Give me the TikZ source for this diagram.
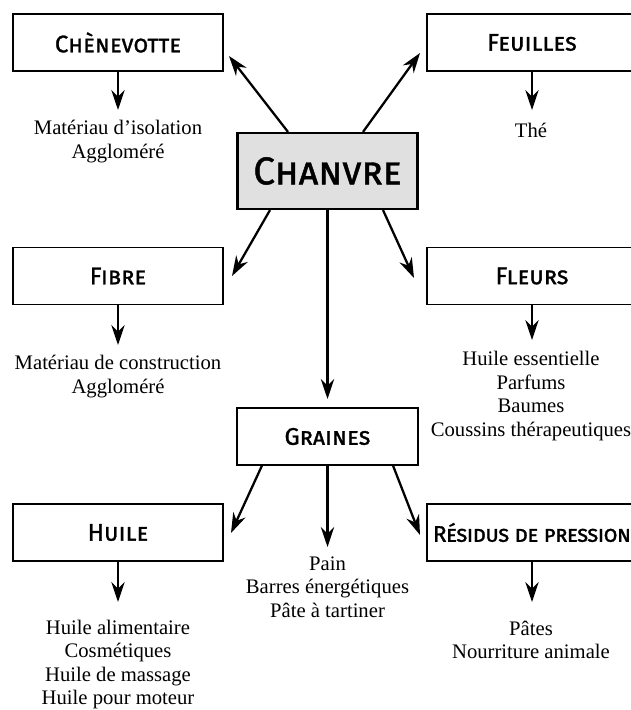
\documentclass[tikz,border=0pt]{standalone}
\usepackage{fontspec}
\setmainfont{Liberation Serif}
\newfontfamily\headfont[FakeBold=1.2]{Fira Sans}
\usetikzlibrary{arrows.meta,calc}
\begin{document}
\begin{tikzpicture}[x=0.75pt,y=-0.75pt,
  box/.style={draw=black,line width=0.8pt,minimum width=157.5pt,minimum height=42.75pt,inner sep=0pt,font=\headfont\fontsize{18}{22}\selectfont\scshape},
  mainbox/.style={draw=black,line width=1.6pt,fill=black!12,minimum width=135pt,minimum height=57pt,inner sep=0pt,font=\headfont\fontsize{29}{34}\selectfont\scshape},
  txt/.style={align=center,font=\fontsize{15.5}{17.6}\selectfont,inner sep=0pt},
  arr/.style={line width=1.7pt,-{Stealth[length=15pt,width=10pt]}}]
\useasboundingbox (0,0) rectangle (631,710);
\clip (0,0) rectangle (631,710);

% boxes
\node[mainbox] (chanvre) at (327.5,171) {Chanvre};
\node[box] (chen) at (118,42.5) {Chènevotte};
\node[box] (feuil) at (532,42.5) {Feuilles};
\node[box] (fibre) at (118,276) {Fibre};
\node[box] (fleurs) at (532,276) {Fleurs};
\node[box,minimum width=135.75pt] (graines) at (327.5,436.5) {Graines};
\node[box] (huile) at (118,532.5) {Huile};
\node[box,font=\headfont\fontsize{17}{22}\selectfont\scshape\addfontfeature{LetterSpace=-3}] (resid) at (532,532.5) {Résidus de pression};

% texts
\node[txt] (chent) at (118,141.5) {Matériau d’isolation\\Aggloméré};
\node[txt] (feuilt) at (531,130) {Thé};
\node[txt] (fibret) at (118,376.5) {Matériau de construction\\Aggloméré};
\node[txt] (fleurst) at (531,396) {Huile essentielle\\Parfums\\Baumes\\Coussins thérapeutiques};
\node[txt] (grainet) at (327.5,587) {Pain\\Barres énergétiques\\Pâte à tartiner};
\node[txt] (huilet) at (118,664.5) {Huile alimentaire\\Cosmétiques\\Huile de massage\\Huile pour moteur};
\node[txt] (residt) at (531,640) {Pâtes\\Nourriture animale};

% tips
\coordinate (tChen) at (118,110);
\coordinate (tFeuil) at (532,110);
\coordinate (tFibre) at (118,345);
\coordinate (tFleurs) at (532,340);
\coordinate (tHuile) at (118,602);
\coordinate (tResid) at (532,602);
\coordinate (tUL) at (229,56);
\coordinate (tUR) at (420,53);
\coordinate (tDL) at (232,276);
\coordinate (tDR) at (414,278);
\coordinate (tDC) at (327.5,399);
\coordinate (tGL) at (231,533);
\coordinate (tGC) at (327.5,547);
\coordinate (tGR) at (420,535);

\draw[arr] (chen.south) -- (tChen);
\draw[arr] (feuil.south) -- (tFeuil);
\draw[arr] (fibre.south) -- (tFibre);
\draw[arr] (fleurs.south) -- (tFleurs);
\draw[arr] (huile.south) -- (tHuile);
\draw[arr] (resid.south) -- (tResid);

\draw[arr] ($(chanvre.north)+(-39.5,0)$) -- (tUL);
\draw[arr] ($(chanvre.north)+(35.5,0)$) -- (tUR);
\draw[arr] ($(chanvre.south)+(-57.5,0)$) -- (tDL);
\draw[arr] ($(chanvre.south)+(55.5,0)$) -- (tDR);
\draw[arr] (chanvre.south) -- (tDC);

\draw[arr] ($(graines.south)+(-65.5,0)$) -- (tGL);
\draw[arr] (graines.south) -- (tGC);
\draw[arr] ($(graines.south)+(65.5,0)$) -- (tGR);
\end{tikzpicture}
\end{document}
